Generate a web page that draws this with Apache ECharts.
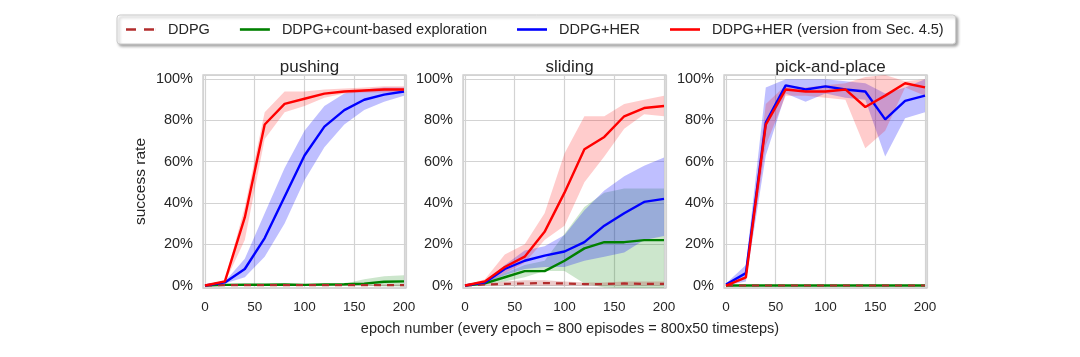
<!DOCTYPE html>
<html>
<head>
<meta charset="utf-8">
<script src="https://cdn.jsdelivr.net/npm/echarts@6/dist/echarts.min.js"></script>
<style>html,body{margin:0;padding:0;background:#fff}#c{width:1080px;height:357px}</style>
</head>
<body>
<div id="c"></div>
<script>
// ---------- data ----------
const epochs = [0, 20, 40, 60, 80, 100, 120, 140, 160, 180, 200];
const panelTitles = ['pushing', 'sliding', 'pick-and-place'];
const methodNames = ['DDPG', 'DDPG+count-based exploration', 'DDPG+HER', 'DDPG+HER (version from Sec. 4.5)'];
const xTicks = [0, 50, 100, 150, 200];
const yTicks = [0, 20, 40, 60, 80, 100];

// pushing
const push_ddpg_mean  = [0, 0.2, 0.2, 0.2, 0.2, 0.2, 0.2, 0.2, 0.2, 0.2, 0.2];
const push_ddpg_hi    = [0, 0.5, 0.5, 0.5, 0.5, 0.5, 0.5, 0.5, 0.5, 0.5, 0.5];
const push_ddpg_lo    = [0, 0, 0, 0, 0, 0, 0, 0, 0, 0, 0];
const push_count_mean = [0, 0.3, 0.4, 0.4, 0.5, 0.3, 0.5, 0.6, 0.9, 1.8, 2.0];
const push_count_hi   = [0, 0.5, 0.6, 0.6, 0.7, 0.5, 0.7, 0.9, 3.0, 4.5, 5.0];
const push_count_lo   = [0, 0, 0, 0, 0, 0, 0, 0, 0, -0.5, -0.5];
const push_her_mean   = [0, 1.5, 8, 23, 43, 63, 77, 85, 90, 92.5, 94];
const push_her_hi     = [0, 2, 13, 35, 57, 75, 87, 93, 95, 96, 96];
const push_her_lo     = [0, 1, 4, 14, 30, 51, 67, 78, 85, 89, 92];
const push_her2_mean  = [0, 2, 33, 78, 88, 90.5, 93, 94, 94.5, 95, 95];
const push_her2_hi    = [0, 2.5, 38, 84, 94, 94, 95, 95.5, 96, 96.5, 96.5];
const push_her2_lo    = [0, 1.5, 22, 71, 84, 87, 91, 93, 93.5, 93.5, 93.5];

// sliding
const slide_ddpg_mean  = [0, 0.5, 0.8, 1, 1.2, 1, 0.7, 0.7, 1, 0.8, 0.8];
const slide_ddpg_hi    = [0, 1, 2, 2.5, 2.5, 2, 1.5, 1.5, 2, 2, 2];
const slide_ddpg_lo    = [0, 0, 0, 0, 0, 0, 0, 0, 0, 0, 0];
const slide_count_mean = [0, 1, 4, 7, 7, 12, 18, 21, 21, 22, 22];
const slide_count_hi   = [0, 1.5, 6, 10, 12, 25, 38, 45, 47, 47, 47];
const slide_count_lo   = [0, 0.5, 2, 4, 7, 7, 1, -1, -2, -2, -2];
const slide_her_mean   = [0, 1.5, 8, 12, 14.5, 16.5, 21, 29, 35, 40.5, 42];
const slide_her_hi     = [0, 2, 10, 17, 19, 24.5, 36.5, 46, 53, 58, 62];
const slide_her_lo     = [0, 1, 5, 8, 9, 9, 12, 14, 16, 22, 24];
const slide_her2_mean  = [0, 2, 9, 14, 26, 45, 66, 72, 82, 86, 87];
const slide_her2_hi    = [0, 3, 15, 20, 35, 64, 82, 82, 88, 90, 92];
const slide_her2_lo    = [0, 1, 6, 11, 22, 29, 50, 62.5, 76, 83, 82];

// pick-and-place
const pick_ddpg_mean  = [0, 0, 0, 0, 0, 0, 0, 0, 0, 0, 0];
const pick_ddpg_hi    = [0, 0, 0, 0, 0, 0, 0, 0, 0, 0, 0];
const pick_ddpg_lo    = [0, 0, 0, 0, 0, 0, 0, 0, 0, 0, 0];
const pick_count_mean = [0, 0, 0, 0, 0, 0, 0, 0, 0, 0, 0];
const pick_count_hi   = [0, 0, 0, 0, 0, 0, 0, 0, 0, 0, 0];
const pick_count_lo   = [0, 0, 0, 0, 0, 0, 0, 0, 0, 0, 0];
const pick_her_mean   = [0.5, 6, 79, 97, 95, 96.5, 95, 94, 80.5, 89.5, 92];
const pick_her_hi     = [1, 10, 96, 100, 100, 100, 99, 98, 93, 96, 100];
const pick_her_lo     = [0, 2, 63, 93, 89, 93, 91, 90, 62.5, 81, 84];
const pick_her2_mean  = [0, 4, 78, 95, 94, 94, 95, 86.5, 92, 98, 96];
const pick_her2_hi    = [0, 5, 88, 97, 96, 97, 98, 101, 102, 99, 100];
const pick_her2_lo    = [0, 3, 68, 92, 92, 91, 90, 66.5, 75, 96, 92];

// ---------- styles ----------
const methodStyles = [
  { color: '#b22d2d', band: 'rgba(178,45,45,0.25)', dashed: true },
  { color: '#008000', band: 'rgba(0,128,0,0.2)', dashed: false },
  { color: '#0000ff', band: 'rgba(0,0,255,0.25)', dashed: false },
  { color: '#ff0000', band: 'rgba(255,0,0,0.2)', dashed: false }
];
const panels = [
  [[push_ddpg_mean, push_ddpg_lo, push_ddpg_hi], [push_count_mean, push_count_lo, push_count_hi], [push_her_mean, push_her_lo, push_her_hi], [push_her2_mean, push_her2_lo, push_her2_hi]],
  [[slide_ddpg_mean, slide_ddpg_lo, slide_ddpg_hi], [slide_count_mean, slide_count_lo, slide_count_hi], [slide_her_mean, slide_her_lo, slide_her_hi], [slide_her2_mean, slide_her2_lo, slide_her2_hi]],
  [[pick_ddpg_mean, pick_ddpg_lo, pick_ddpg_hi], [pick_count_mean, pick_count_lo, pick_count_hi], [pick_her_mean, pick_her_lo, pick_her_hi], [pick_her2_mean, pick_her2_lo, pick_her2_hi]]
];
// draw order inside a panel: count-based, DDPG, HER, HER v2
const drawOrder = [1, 0, 2, 3];

const gridLefts = [203, 463, 724];
const gridTop = 75, gridW = 203, gridH = 213;
const font = 'Liberation Sans, Arial, sans-serif';
const textColor = '#262626';
const splitColor = '#d3d3d3';

function isTick(v, list) { return list.indexOf(Math.round(v * 1000) / 1000) >= 0; }

function bandSeries(p, lo, hi, color) {
  return {
    type: 'custom', xAxisIndex: p, yAxisIndex: p, silent: true, z: 1,
    data: epochs.map((x, i) => [x, lo[i], hi[i]]),
    encode: { x: 0, y: [1, 2] },
    renderItem: (params, api) => {
      if (params.dataIndex !== 0) return null;
      const top = epochs.map((x, i) => api.coord([x, hi[i]]));
      const bot = epochs.map((x, i) => api.coord([x, lo[i]])).reverse();
      const cs = params.coordSys;
      const pts = echarts.graphic.clipPointsByRect(top.concat(bot),
        { x: cs.x, y: cs.y, width: cs.width, height: cs.height });
      return { type: 'polygon', shape: { points: pts }, style: { fill: color } };
    }
  };
}

const grids = [], xAxes = [], yAxes = [], titles = [], series = [];
gridLefts.forEach((l, p) => {
  grids.push({ left: l, top: gridTop, width: gridW, height: gridH, show: true,
    borderColor: '#cccccc', borderWidth: 1.3, backgroundColor: '#fff', containLabel: false });
  xAxes.push({ type: 'value', gridIndex: p, min: -2, max: 202, splitNumber: 4,
    minInterval: 50, maxInterval: 50,
    axisLine: { show: false }, axisTick: { show: false },
    axisLabel: { fontSize: 13.5, color: textColor, fontFamily: font, margin: 12,
      formatter: v => (isTick(v, xTicks) ? String(v) : '') },
    splitLine: { show: true, lineStyle: { color: splitColor, width: 1.2 } } });
  yAxes.push({ type: 'value', gridIndex: p, min: -1.2, max: 102, splitNumber: 5,
    minInterval: 20, maxInterval: 20,
    axisLine: { show: false }, axisTick: { show: false },
    name: p === 0 ? 'success rate' : '', nameLocation: 'middle', nameGap: 54,
    nameTextStyle: { fontSize: 15.5, color: textColor, fontFamily: font },
    axisLabel: { fontSize: 14.5, color: textColor, fontFamily: font, margin: 10,
      formatter: v => (isTick(v, yTicks) ? v + '%' : '') },
    splitLine: { show: true, lineStyle: { color: splitColor, width: 1.2 } } });
  titles.push({ text: panelTitles[p], left: l + gridW / 2, top: 54, textAlign: 'center',
    textStyle: { fontSize: 17, fontWeight: 'normal', color: textColor, fontFamily: font } });

  drawOrder.forEach(m => {
    const [, lo, hi] = panels[p][m];
    series.push(bandSeries(p, lo, hi, methodStyles[m].band));
  });
  drawOrder.forEach((m, k) => {
    const mean = panels[p][m][0];
    const st = methodStyles[m];
    series.push({ type: 'line', name: methodNames[m], xAxisIndex: p, yAxisIndex: p,
      symbol: 'none', showSymbol: false, z: 3 + k, clip: true,
      itemStyle: { color: st.color },
      lineStyle: { color: st.color, width: st.dashed ? 2.2 : 2.4, type: st.dashed ? [7, 6] : 'solid' },
      data: epochs.map((x, i) => [x, mean[i]]) });
  });
});

titles.push({ text: 'epoch number (every epoch = 800 episodes = 800x50 timesteps)', left: 565, top: 316,
  textAlign: 'center', textStyle: { fontSize: 14.5, fontWeight: 'normal', color: textColor, fontFamily: font } });

const solidIcon = 'path://M0,0h30v2.6h-30z';
const dashIcon = 'path://M0,0h10v2.6h-10zM18,0h10v2.6h-10zM29.9,0h0.1v2.6h-0.1z';
const legendData = methodNames.map((n, i) => ({ name: n, icon: methodStyles[i].dashed ? dashIcon : solidIcon,
  itemStyle: { color: methodStyles[i].color } }));

const chart = echarts.init(document.getElementById('c'), null, { renderer: 'canvas' });
chart.setOption({
  animation: false,
  backgroundColor: '#fff',
  title: titles,
  legend: {
    data: legendData, left: 117, top: 15, orient: 'horizontal',
    itemWidth: 30, itemHeight: 2.6, itemGap: 30, symbolKeepAspect: false,
    padding: [7, 12, 7, 9],
    backgroundColor: '#fff', borderColor: '#cccccc', borderWidth: 1, borderRadius: 3,
    shadowColor: 'rgba(0,0,0,0.35)', shadowBlur: 3, shadowOffsetX: 2, shadowOffsetY: 2,
    textStyle: { fontSize: 14.5, color: textColor, fontFamily: font, padding: [0, 0, 0, 7] },
    selectedMode: false
  },
  grid: grids, xAxis: xAxes, yAxis: yAxes, series: series
});
</script>
</body>
</html>
